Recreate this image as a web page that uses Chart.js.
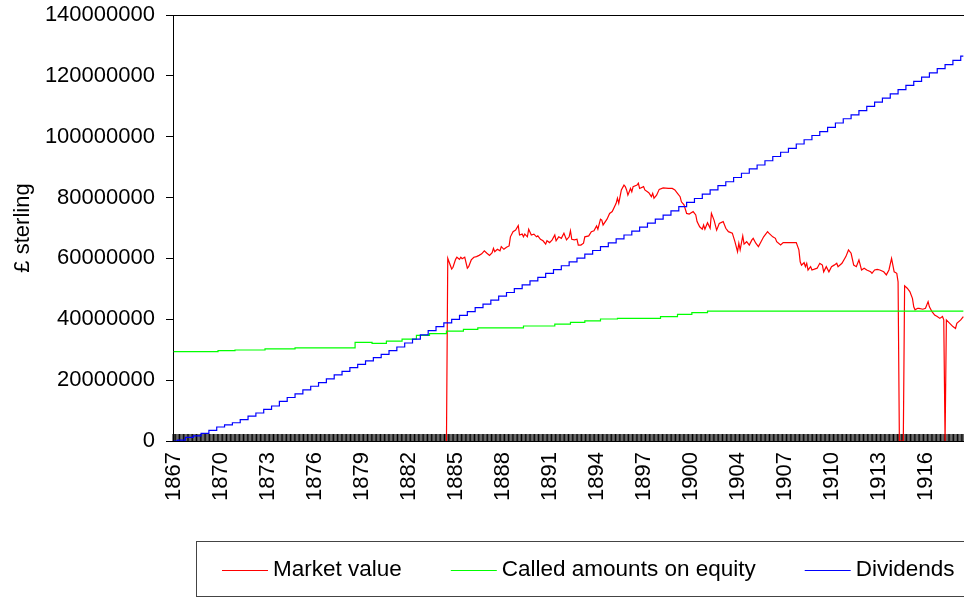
<!DOCTYPE html>
<html>
<head>
<meta charset="utf-8">
<script src="https://cdn.jsdelivr.net/npm/chart.js@4.4.1/dist/chart.umd.min.js"></script>
<style>
html,body{margin:0;padding:0;background:#fff;overflow:hidden}
#wrap{width:964px;height:597px;position:relative}
canvas{display:block}
</style>
</head>
<body>
<div id="wrap"><canvas id="c" width="964" height="597"></canvas></div>
<script>
// ---- categories (monthly, one year missing in the source series) ----
const firstYear = 1867;
const lastYear = 1918;
const skippedYear = 1901;
const categoryCount = 606;
const labelEvery = 36;
const xTickLabels = ['1867','1870','1873','1876','1879','1882','1885','1888','1891','1894','1897','1900','1904','1907','1910','1913','1916'];
const yTickValuesM = [0, 20, 40, 60, 80, 100, 120, 140]; // £ million

const seriesNames = ['Market value', 'Called amounts on equity', 'Dividends'];
const seriesColors = ['#ff0000', '#00ff00', '#0000ff'];

// ---- values, [category index, £ million] ----
const marketValue = [
[209,0],[210,60.0],[213,56.5],[214,57.1],[216,59.7],[217,60.4],[219,59.7],[220,60.4],[221,59.9],[223,60.4],[225,56.8],[226,57.3],[228,59.5],[230,60.4],[232,60.6],[234,61.0],[236,61.5],[238,62.5],[240,61.7],[242,61.0],[244,61.9],[245,63.3],[246,62.2],[248,63.0],[250,62.5],[251,63.9],[253,63.0],[255,63.7],[257,64.1],[258,67.1],[260,68.8],[262,69.3],[264,70.8],[265,67.7],[267,68.0],[268,67.1],[269,68.0],[271,67.1],[272,69.6],[274,67.7],[276,68.0],[278,67.1],[279,67.4],[281,66.3],[283,65.8],[285,64.7],[286,65.8],[288,65.2],[290,66.1],[292,67.7],[293,65.8],[295,67.1],[297,66.6],[299,68.3],[301,66.1],[303,67.1],[304,69.1],[305,66.3],[307,66.1],[309,66.3],[310,64.4],[312,64.4],[314,65.0],[315,67.1],[318,67.4],[320,68.8],[322,69.1],[324,70.7],[325,69.6],[327,72.9],[328,72.6],[329,71.0],[332,72.9],[334,74.8],[336,75.4],[339,78.1],[340,79.8],[341,78.1],[342,80.3],[343,82.5],[345,84.1],[346,83.6],[347,82.5],[348,80.8],[350,83.0],[351,81.9],[352,83.6],[355,84.1],[356,84.7],[357,83.0],[360,83.6],[361,82.5],[364,81.6],[366,80.3],[367,81.4],[368,79.8],[370,80.8],[372,82.7],[375,83.2],[379,83.0],[382,83.0],[384,82.5],[386,81.4],[388,80.3],[389,78.6],[391,77.6],[393,74.8],[395,74.6],[398,75.4],[400,74.3],[401,72.1],[403,70.4],[405,69.6],[406,71.0],[407,69.6],[409,71.7],[411,69.9],[412,74.8],[414,72.6],[416,69.3],[418,71.5],[421,72.1],[423,69.9],[425,68.8],[428,68.3],[430,65.5],[432,62.2],[433,65.0],[434,62.8],[436,67.4],[437,64.7],[439,65.5],[441,64.4],[443,66.1],[444,66.6],[446,65.0],[448,63.9],[450,65.5],[452,67.1],[455,68.8],[456,68.3],[459,67.1],[461,66.6],[462,65.5],[465,64.4],[467,65.2],[477,65.2],[479,62.8],[480,58.9],[481,57.8],[483,58.6],[484,57.3],[485,58.4],[486,56.2],[488,57.3],[489,56.2],[493,56.8],[495,58.4],[497,57.8],[498,55.6],[500,57.3],[502,55.6],[504,57.3],[506,57.8],[508,58.4],[509,57.3],[512,58.4],[515,60.6],[517,62.8],[519,61.7],[521,57.8],[523,57.3],[525,59.5],[527,56.2],[529,56.8],[531,56.2],[534,55.6],[535,55.1],[537,56.2],[539,56.4],[541,56.2],[544,55.6],[546,54.6],[548,56.2],[550,60.0],[552,55.6],[554,55.1],[555,52.3],[556,0],[559,0],[560,51.0],[562,50.2],[564,49.1],[566,46.9],[567,44.1],[568,43.1],[570,43.6],[571,43.6],[574,43.3],[576,43.6],[578,45.8],[579,44.1],[581,42.5],[583,41.4],[585,40.9],[587,40.3],[589,40.9],[590,39.8],[591,0],[592,39.8],[594,38.9],[597,37.6],[599,37.0],[600,38.7],[603,39.8],[605,40.9]
];

const calledAmounts = [
[0,29.4],[34,29.7],[47,29.9],[70,30.3],[93,30.6],[139,32.4],[152,32.1],[163,32.8],[175,33.5],[186,34.7],[196,35.3],[209,36.1],[222,36.7],[233,37.2],[268,37.8],[292,38.4],[304,39.0],[315,39.5],[327,40.1],[340,40.3],[373,40.9],[386,41.6],[397,42.2],[409,42.7],[605,42.7]
];

const dividends = [
[0,0],[3,0.3],[9,1.2],[15,1.7],[21,2.5],[27,3.5],[33,4.6],[39,5.3],[45,6.0],[51,7.0],[57,8.2],[63,9.2],[69,10.4],[75,11.5],[81,13.0],[87,14.3],[93,15.5],[99,16.8],[105,18.0],[111,19.2],[117,20.4],[123,21.7],[129,22.9],[135,24.1],[141,25.2],[147,26.3],[153,27.4],[159,28.5],[165,29.7],[171,30.9],[177,32.2],[183,33.5],[189,34.9],[195,36.3],[201,37.6],[207,38.8],[213,40.0],[219,41.3],[225,42.5],[231,43.8],[237,45.0],[243,46.3],[249,47.6],[255,48.8],[261,50.1],[267,51.3],[273,52.6],[279,53.8],[285,55.1],[291,56.3],[297,57.6],[303,58.9],[309,60.1],[315,61.4],[321,62.6],[327,63.9],[333,65.1],[339,66.4],[345,67.7],[351,69.0],[357,70.3],[363,71.6],[369,72.9],[375,74.2],[381,75.6],[387,77.0],[393,78.4],[399,79.7],[405,81.1],[411,82.5],[417,83.9],[423,85.2],[429,86.6],[435,88.0],[441,89.4],[447,90.7],[453,92.1],[459,93.5],[465,94.9],[471,96.2],[477,97.6],[483,99.0],[489,100.4],[495,101.7],[501,103.1],[507,104.5],[513,105.9],[519,107.2],[525,108.6],[531,110.0],[537,111.4],[543,112.7],[549,114.1],[555,115.5],[561,116.9],[567,118.2],[573,119.6],[579,121.0],[585,122.4],[591,123.7],[597,125.1],[603,126.5],[605,126.5]
];

// ---- build category table ----
const categories = [];
for (let y = firstYear; y <= lastYear && categories.length < categoryCount; y++) {
  if (y === skippedYear) continue;
  for (let m = 1; m <= 12 && categories.length < categoryCount; m++) {
    categories.push(y + '-' + String(m).padStart(2, '0'));
  }
}
const toPoints = arr => arr.map(p => ({x: categories[p[0]], y: p[1]}));

const FONT = '"Liberation Sans", Arial, sans-serif';
Chart.defaults.font.family = FONT;
Chart.defaults.color = '#000';

const denseTicks = {
  id: 'denseTicks',
  beforeDatasetsDraw(chart) {
    const xs = chart.scales.x, ctx = chart.ctx, area = chart.chartArea;
    const w = xs.getPixelForValue(1) - xs.getPixelForValue(0);
    ctx.save();
    ctx.strokeStyle = '#000';
    ctx.lineWidth = 1;
    ctx.beginPath();
    for (let i = 0; i <= categories.length; i++) {
      const x = xs.getPixelForValue(i) - w / 2;
      ctx.moveTo(x, area.bottom - 7);
      ctx.lineTo(x, area.bottom);
    }
    ctx.stroke();
    ctx.restore();
  }
};

const boxLegend = {
  id: 'boxLegend',
  afterDraw(chart) {
    const ctx = chart.ctx;
    const L = {left: 196.5, top: 541.5, bottom: 596.5, startX: 222, lineLen: 46, gap: 5, itemGap: 49};
    ctx.save();
    ctx.strokeStyle = '#444';
    ctx.lineWidth = 1;
    ctx.strokeRect(L.left, L.top, chart.width + 10 - L.left, L.bottom - L.top);
    ctx.font = '22.5px ' + FONT;
    ctx.textBaseline = 'middle';
    ctx.textAlign = 'left';
    const midY = 570;
    let x = L.startX;
    chart.data.datasets.forEach(ds => {
      ctx.strokeStyle = ds.borderColor;
      ctx.beginPath();
      ctx.moveTo(x, midY + 0.5);
      ctx.lineTo(x + L.lineLen, midY + 0.5);
      ctx.stroke();
      x += L.lineLen + L.gap;
      ctx.fillStyle = '#000';
      ctx.fillText(ds.label, x, midY);
      x += ctx.measureText(ds.label).width + L.itemGap;
    });
    ctx.restore();
  }
};

new Chart(document.getElementById('c'), {
  type: 'line',
  data: {
    labels: categories,
    datasets: [
      {label: seriesNames[0], data: toPoints(marketValue), borderColor: seriesColors[0], borderWidth: 1.2, pointRadius: 0, tension: 0, fill: false, order: 2},
      {label: seriesNames[1], data: toPoints(calledAmounts), borderColor: seriesColors[1], borderWidth: 1.2, pointRadius: 0, stepped: true, fill: false, order: 1},
      {label: seriesNames[2], data: toPoints(dividends), borderColor: seriesColors[2], borderWidth: 1.2, pointRadius: 0, stepped: true, fill: false, order: 0}
    ]
  },
  options: {
    responsive: false,
    animation: false,
    devicePixelRatio: 1,
    events: [],
    layout: {padding: {top: 15, right: 0, left: 0, bottom: 0}},
    plugins: {legend: {display: false}, tooltip: {enabled: false}},
    scales: {
      x: {
        type: 'category',
        offset: true,
        grid: {display: false, drawTicks: false},
        border: {display: true, color: '#000', width: 1},
        ticks: {
          autoSkip: false, minRotation: 90, maxRotation: 90, padding: 11,
          font: {size: 22}, color: '#000',
          callback: (v, i) => (i % labelEvery === 0 && xTickLabels[i / labelEvery]) ? xTickLabels[i / labelEvery] : ''
        },
        afterFit(scale) { scale.height = 156; scale.paddingLeft = 0; scale.paddingRight = 0; }
      },
      y: {
        min: 0, max: 140,
        afterBuildTicks(scale) { scale.ticks = yTickValuesM.map(v => ({value: v})); },
        grid: {
          drawOnChartArea: true, drawTicks: true, tickLength: 7, tickColor: '#000',
          color: c => (c.tick && c.tick.value === 140) ? '#000' : 'rgba(0,0,0,0)'
        },
        border: {display: true, color: '#000', width: 1},
        ticks: {
          padding: 11, font: {size: 22}, color: '#000',
          callback: v => String(Math.round(v * 1000000))
        },
        title: {display: true, text: '£ sterling', font: {size: 22}, color: '#000', padding: {top: 10, bottom: 0}},
        afterFit(scale) { scale.width = 173; scale.paddingTop = 0; scale.paddingBottom = 0; }
      }
    }
  },
  plugins: [denseTicks, boxLegend]
});
</script>
</body>
</html>
